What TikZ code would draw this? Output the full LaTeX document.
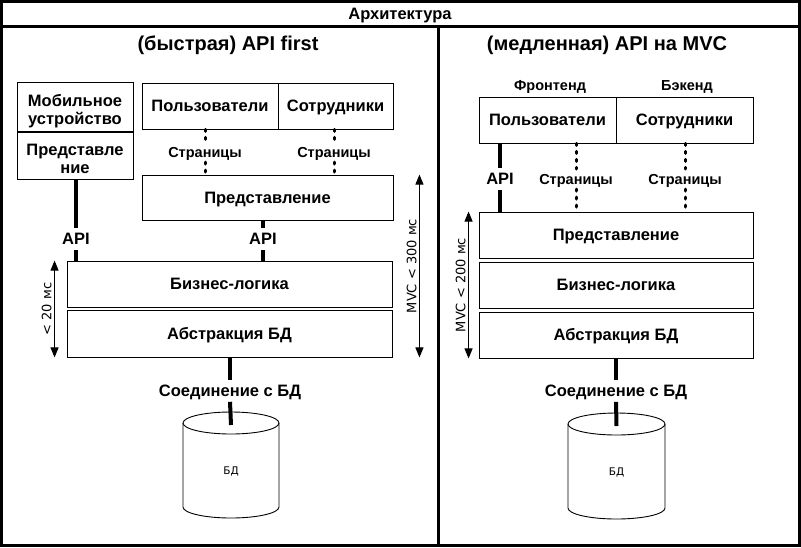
\documentclass[tikz,border=0pt]{standalone}
\usepackage{fontspec}
\setmainfont{Liberation Sans}
\newfontfamily\dejavu{DejaVu Sans}
\usetikzlibrary{arrows.meta,calc}

\begin{document}
\begin{tikzpicture}[x=1pt, y=-1pt,
  box/.style={draw, line width=0.9pt, align=center, inner sep=0pt,
    font=\bfseries\fontsize{16.5}{18.5}\selectfont},
  tbox/.style={box, text height=11.8pt, text depth=0pt},
  tbox2/.style={box, text height=36pt, text depth=0pt},
  lbl/.style={font=\bfseries\fontsize{16.5}{20}\selectfont, inner sep=2pt,
    text height=14.5pt, text depth=2.7pt},
  small/.style={font=\bfseries\fontsize{14.5}{17}\selectfont, inner sep=2pt,
    text height=13pt, text depth=2.6pt},
  head/.style={font=\bfseries\fontsize{20}{24}\selectfont},
  api/.style={line width=4pt},
  pages/.style={line width=3pt, line cap=round, dash pattern=on 2pt off 6pt},
  span/.style={line width=1pt,
    {Triangle[length=10pt,width=8pt]}-{Triangle[length=10pt,width=8pt]}},
  rot/.style={rotate=90, anchor=south, inner sep=2.5pt,
    font=\dejavu\fontsize{13}{15}\selectfont},
  dbtxt/.style={font=\dejavu\fontsize{10.5}{12}\selectfont}]
\useasboundingbox (0,0) rectangle (801,547);
% ----- frame -----
\draw[line width=3pt] (1.5,1.5) rectangle (799,545);
\draw[line width=3pt] (1.5,26.5) -- (799,26.5);
\draw[line width=3pt] (438.5,26.5) -- (438.5,545);
\node[lbl] (arch) at (400,14) {Архитектура};
% ----- left half: API first -----
\node[head] (titleL) at (228,45) {(быстрая) API first};
\node[tbox2, minimum width=116, minimum height=49] (mob) at (75,106.5) {Мобильное\\устройство};
\node[tbox2, minimum width=116, minimum height=47] (presM) at (75,155.5) {Представле\\ние};
\node[tbox, minimum width=136, minimum height=46] (usersL) at (210,106) {Пользователи};
\node[tbox, minimum width=115, minimum height=46] (staffL) at (335.5,106) {Сотрудники};
\node[tbox, minimum width=251, minimum height=45] (presL) at (267.5,197.5) {Представление};
\node[tbox, minimum width=325, minimum height=46] (bizL) at (229.5,284) {Бизнес-логика};
\node[tbox, minimum width=325, minimum height=47] (dbaL) at (229.5,333.5) {Абстракция БД};
\node[small] (pgL1) at (205,152) {Страницы};
\node[small] (pgL2) at (334,152) {Страницы};
\node[lbl] (apiL) at (76,239) {API};
\node[lbl] (apiM) at (263,239) {API};
\node[lbl] (connL) at (230,391) {Соединение с БД};
\draw[line width=0.9pt] (183,423) -- (183,507)
  arc[start angle=180, end angle=360, x radius=48pt, y radius=11pt] -- (279,423);
\draw[line width=0.9pt] (231,423) ellipse[x radius=48pt, y radius=11pt];
\node[dbtxt] (dbL) at (231,471) {БД};
\coordinate (dbLtop) at (231,425);
\draw[api] (apiL.north |- presM.south) -- (apiL.north);
\draw[api] (apiL.south) -- (apiL.south |- bizL.north);
\draw[pages] (pgL1.north |- usersL.south) -- (pgL1.north);
\draw[pages] (pgL1.south) -- (pgL1.south |- presL.north);
\draw[pages] (pgL2.north |- staffL.south) -- (pgL2.north);
\draw[pages] (pgL2.south) -- (pgL2.south |- presL.north);
\draw[api] (apiM.north |- presL.south) -- (apiM.north);
\draw[api] (apiM.south) -- (apiM.south |- bizL.north);
\draw[api] (connL.north |- dbaL.south) -- (connL.north);
\draw[api] (connL.south) -- (dbLtop);
\draw[span] ([xshift=-12pt]bizL.north west) -- ([xshift=-12pt]dbaL.south west)
  node[rot, midway] {< 20 мс};
\draw[span] ([xshift=26pt]presL.north east) -- ([xshift=26pt]presL.east |- dbaL.south)
  node[rot, midway] {MVC < 300 мс};
% ----- right half: MVC -----
\node[head] (titleR) at (607,45) {(медленная) API на MVC};
\node[small] (front) at (550,85) {Фронтенд};
\node[small] (back) at (687,85) {Бэкенд};
\node[tbox, minimum width=137, minimum height=46] (usersR) at (547.5,120) {Пользователи};
\node[tbox, minimum width=137, minimum height=46] (staffR) at (684.5,120) {Сотрудники};
\node[tbox, minimum width=274, minimum height=46] (presR) at (616,235) {Представление};
\node[tbox, minimum width=274, minimum height=46] (bizR) at (616,285) {Бизнес-логика};
\node[tbox, minimum width=274, minimum height=46] (dbaR) at (616,335) {Абстракция БД};
\node[lbl] (apiR) at (500,179) {API};
\node[small] (pgR1) at (576,179) {Страницы};
\node[small] (pgR2) at (685,179) {Страницы};
\node[lbl] (connR) at (616,391) {Соединение с БД};
\draw[line width=0.9pt] (568,424) -- (568,508)
  arc[start angle=180, end angle=360, x radius=48.5pt, y radius=11pt] -- (665,424);
\draw[line width=0.9pt] (616.5,424) ellipse[x radius=48.5pt, y radius=11pt];
\node[dbtxt] (dbR) at (616.5,472) {БД};
\coordinate (dbRtop) at (616.5,426);
\draw[api] (apiR.north |- usersR.south) -- (apiR.north);
\draw[api] (apiR.south) -- (apiR.south |- presR.north);
\draw[pages] (pgR1.north |- usersR.south) -- (pgR1.north);
\draw[pages] (pgR1.south) -- (pgR1.south |- presR.north);
\draw[pages] (pgR2.north |- staffR.south) -- (pgR2.north);
\draw[pages] (pgR2.south) -- (pgR2.south |- presR.north);
\draw[api] (connR.north |- dbaR.south) -- (connR.north);
\draw[api] (connR.south) -- (dbRtop);
\draw[span] ([xshift=-10pt]presR.north west) -- ([xshift=-10pt]dbaR.south west)
  node[rot, midway] {MVC < 200 мс};
\end{tikzpicture}
\end{document}
